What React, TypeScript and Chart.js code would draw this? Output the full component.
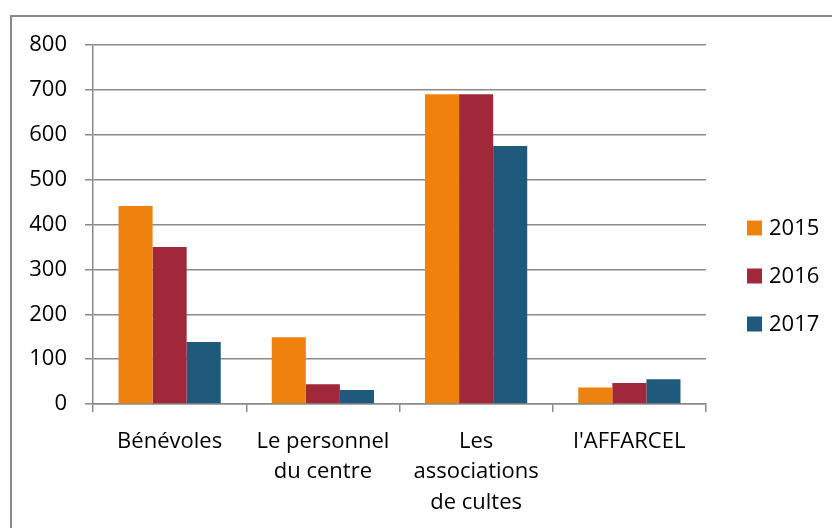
import React, { useEffect, useRef } from "react";
import { Chart, registerables } from "chart.js";

Chart.register(...registerables);

const categories: (string | string[])[] = [
  "Bénévoles",
  ["Le personnel", "du centre"],
  ["Les", "associations", "de cultes"],
  "l'AFFARCEL",
];
const seriesNames = ["2015", "2016", "2017"];
const values2015 = [441, 149, 690, 37];
const values2016 = [350, 44, 690, 47];
const values2017 = [138, 31, 575, 55];
const seriesColors = ["#EF820F", "#A0283A", "#1F5A7C"];

const FONT = "'Open Sans', Lato, sans-serif";
const FS = 22;
const GRID = "#8a8a8a";

const legendPlugin = {
  id: "customLegend",
  afterDraw(chart: any) {
    const ctx = chart.ctx;
    ctx.save();
    ctx.font = `${FS}px ${FONT}`;
    ctx.textBaseline = "middle";
    ctx.textAlign = "left";
    chart.data.datasets.forEach((ds: any, i: number) => {
      const cy = 228 + i * 48;
      ctx.fillStyle = ds.backgroundColor;
      ctx.fillRect(747, cy - 7.5, 15, 15);
      ctx.fillStyle = "#000";
      ctx.fillText(ds.label, 769, cy + 1);
    });
    ctx.restore();
  },
};

export default function App() {
  const ref = useRef<HTMLCanvasElement>(null);
  useEffect(() => {
    if (!ref.current) return;
    const data = [values2015, values2016, values2017];
    const chart = new Chart(ref.current, {
      type: "bar",
      data: {
        labels: categories,
        datasets: seriesNames.map((n, i) => ({
          label: n,
          data: data[i],
          backgroundColor: seriesColors[i],
          categoryPercentage: 0.667,
          barPercentage: 1,
        })),
      },
      options: {
        responsive: false,
        animation: false,
        devicePixelRatio: 1,
        layout: { padding: { top: 45, right: 126, left: 0, bottom: 0 } },
        plugins: { legend: { display: false }, tooltip: { enabled: false } },
        scales: {
          x: {
            afterFit: (s: any) => {
              s.height = 124;
            },
            grid: {
              offset: true,
              drawOnChartArea: false,
              drawTicks: true,
              tickLength: 8,
              color: GRID,
              lineWidth: 1.5,
            },
            border: { display: true, color: GRID, width: 1.5 },
            ticks: {
              color: "#000",
              font: { family: FONT, size: FS, lineHeight: 1.4 },
              padding: 14,
              maxRotation: 0,
              autoSkip: false,
            },
          },
          y: {
            min: 0,
            max: 800,
            afterFit: (s: any) => {
              s.width = 93;
            },
            grid: {
              color: GRID,
              lineWidth: 1.5,
              tickLength: 8,
              drawTicks: true,
            },
            border: { display: true, color: GRID, width: 1.5 },
            ticks: {
              stepSize: 100,
              color: "#000",
              font: { family: FONT, size: FS },
              padding: 18,
            },
          },
        },
      },
      plugins: [legendPlugin],
    });
    return () => chart.destroy();
  }, []);
  return (
    <div
      style={{
        position: "fixed",
        left: 0,
        top: 0,
        width: 832,
        height: 528,
        overflow: "hidden",
        background: "#fff",
      }}
    >
      <div
        style={{
          position: "absolute",
          left: 10,
          top: 15,
          width: 900,
          height: 600,
          border: "2px solid #8a8a8a",
        }}
      />
      <canvas
        ref={ref}
        width={832}
        height={528}
        style={{ position: "absolute", left: 0, top: 0 }}
      />
    </div>
  );
}
